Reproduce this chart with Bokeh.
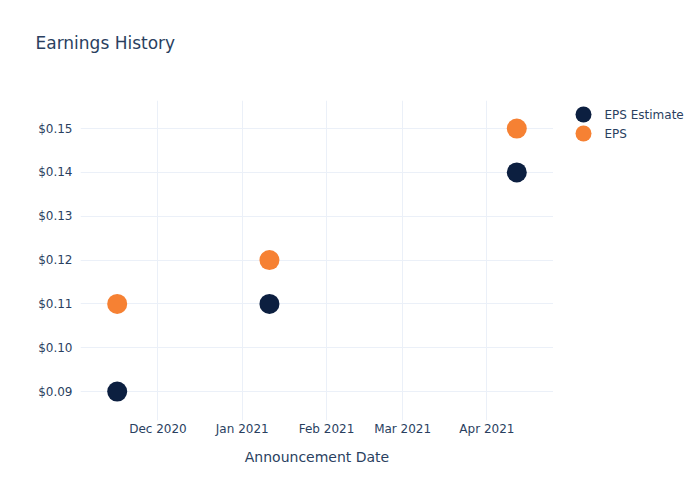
import pandas as pd
from bokeh.plotting import figure
from bokeh.layouts import row
from bokeh.models import (Range1d, MonthsTicker, DatetimeTickFormatter, NumeralTickFormatter,
                          FixedTicker, Title)
from bokeh.core.properties import value
from bokeh.embed import file_html
from bokeh.resources import INLINE

dates = ["2020-11-16", "2021-01-11", "2021-04-12"]
eps_estimate = [0.09, 0.11, 0.14]
eps_actual = [0.11, 0.12, 0.15]
y_ticks = [0.09, 0.10, 0.11, 0.12, 0.13, 0.14, 0.15]
series_names = ["EPS Estimate", "EPS"]
series_colors = ["#0C1F40", "#F68133"]

x = pd.to_datetime(dates)
FONT = "DejaVu Sans"
TXT = "#2a3f5f"
GRID = "#EBF0F8"

p = figure(width=553, height=500, output_backend="svg", toolbar_location=None,
           x_axis_type="datetime",
           x_range=Range1d(pd.Timestamp("2020-11-02 12:00"), pd.Timestamp("2021-04-25 12:00")),
           y_range=Range1d(0.0834, 0.1564),
           min_border_left=80, min_border_right=0, min_border_top=100, min_border_bottom=80)
p.outline_line_color = None
p.background_fill_color = "white"
p.border_fill_color = "white"

# trailing empty line lifts the title text within the top margin
p.title = Title(text="Earnings History\n", text_font=FONT, text_font_size="17px",
                text_color=TXT, text_font_style="normal", align="left", offset=-45,
                standoff=52, vertical_align="top")

p.scatter(x, eps_estimate, size=20, color=series_colors[0], line_color=None)
p.scatter(x, eps_actual, size=20, color=series_colors[1], line_color=None)

p.xaxis.ticker = MonthsTicker(months=list(range(12)))
p.xaxis.formatter = DatetimeTickFormatter(months="%b %Y", days="%b %Y")
p.yaxis.ticker = FixedTicker(ticks=y_ticks)
p.yaxis.formatter = NumeralTickFormatter(format="$0.00")

for ax in (p.xaxis, p.yaxis):
    ax.axis_line_color = None
    ax.major_tick_line_color = None
    ax.minor_tick_line_color = None
    ax.major_tick_out = 0
    ax.major_tick_in = 0
    ax.major_label_text_font = FONT
    ax.major_label_text_font_size = "12px"
    ax.major_label_text_color = TXT
p.yaxis.major_label_standoff = 8
p.xaxis.major_label_standoff = 1
p.xaxis.axis_label = "Announcement Date"
p.xaxis.axis_label_text_font = FONT
p.xaxis.axis_label_text_font_size = "14px"
p.xaxis.axis_label_text_font_style = "normal"
p.xaxis.axis_label_text_color = TXT
p.xaxis.axis_label_standoff = 10

p.xgrid.grid_line_color = GRID
p.ygrid.grid_line_color = GRID
p.xgrid.ticker = p.xaxis.ticker
p.ygrid.ticker = p.yaxis.ticker

# legend panel (pixel-aligned coordinates matching the main frame)
lg = figure(width=147, height=500, output_backend="svg", toolbar_location=None,
            x_range=Range1d(553, 700), y_range=Range1d(420, 100),
            x_axis_location=None, y_axis_location=None,
            min_border_left=0, min_border_right=0, min_border_top=100, min_border_bottom=80)
lg.outline_line_color = None
lg.xgrid.visible = False
lg.ygrid.visible = False
lg.background_fill_color = "white"
lg.border_fill_color = "white"
leg_y = [114, 133]
lg.scatter([583] * len(series_names), leg_y, size=16, color=series_colors, line_color=None)
lg.text([604] * len(series_names), leg_y, text=series_names, text_font=value(FONT),
        text_font_size="12px", text_color=TXT, text_baseline="middle", text_align="left")

layout = row(p, lg, spacing=0)
open("out.html", "w").write(file_html(layout, INLINE))
